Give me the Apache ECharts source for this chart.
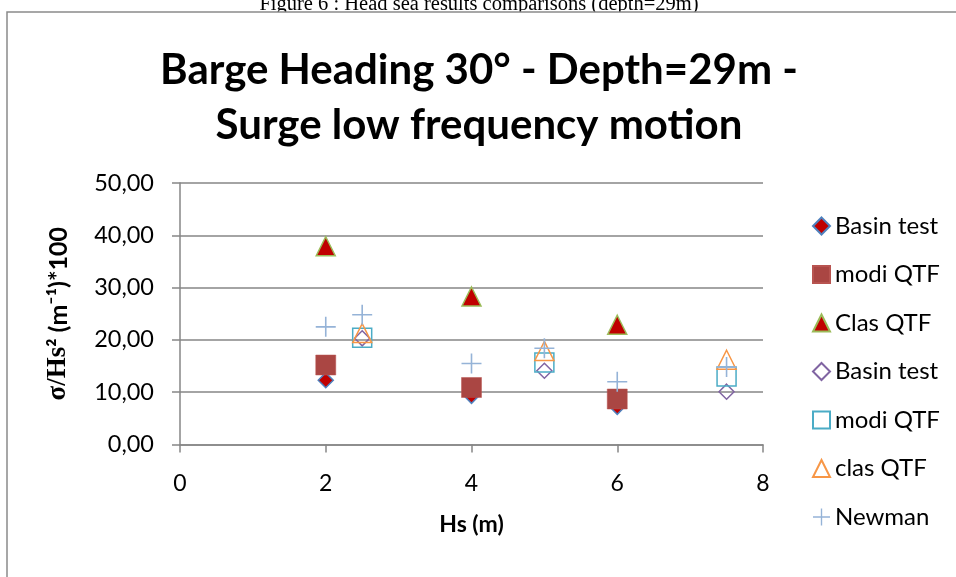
<!DOCTYPE html>
<html>
<head>
<meta charset="utf-8">
<script src="https://cdn.jsdelivr.net/npm/echarts@6/dist/echarts.min.js"></script>
<style>
html,body{margin:0;padding:0;background:#fff;}
#chart{width:956px;height:577px;}
</style>
</head>
<body>
<div id="chart"></div>
<script>
// ---- data ----
const xBasinFilled = [2, 4, 6];
const yBasinFilled = [12.3, 9.3, 7.2];
const yModiFilled = [15.2, 10.9, 8.7];
const yClasFilled = [37.9, 28.3, 22.9];

const xHollow = [2.5, 5, 7.5];
const yBasinHollow = [20.3, 14.1, 10.1];
const yModiHollow = [20.4, 15.7, 13.0];
const yClasHollow = [21.3, 17.9, 16.2];

const xNewman = [2, 2.5, 4, 5, 6, 7.5];
const yNewman = [22.5, 24.8, 15.5, 18.4, 12.0, 14.8];

const yTickLabels = ['0,00', '10,00', '20,00', '30,00', '40,00', '50,00'];
const xTickLabels = ['0', '2', '4', '6', '8'];
const seriesNames = ['Basin test', 'modi QTF', 'Clas QTF', 'Basin test ', 'modi QTF ', 'clas QTF', 'Newman'];

const pair = (xs, ys) => xs.map((x, i) => [x, ys[i]]);
const plusPath = 'path://M4.6,0H5.4V4.6H10V5.4H5.4V10H4.6V5.4H0V4.6H4.6Z';

const chart = echarts.init(document.getElementById('chart'));
const gridCol = '#868686';
const sans = 'Lato';

chart.setOption({
  animation: false,
  backgroundColor: '#fff',
  graphic: [
    { type: 'text', x: 479, y: 15, z: -5,
      style: { text: 'Figure 6 : Head sea results comparisons (depth=29m)', fill: '#000',
        font: '20.5px "Liberation Serif"', textAlign: 'center', textVerticalAlign: 'bottom' } },
    { type: 'rect', shape: { x: 7, y: 12, width: 1200, height: 1000 }, z: -4,
      style: { fill: '#fff', stroke: '#8a8a8a', lineWidth: 1.5 } },
    { type: 'text', x: 479, y: 70,
      style: { text: 'Barge Heading 30° - Depth=29m -', fill: '#000',
        font: 'bold 42px Lato', textAlign: 'center', textVerticalAlign: 'middle' } },
    { type: 'text', x: 479, y: 125,
      style: { text: 'Surge low frequency motion', fill: '#000',
        font: 'bold 42px Lato', textAlign: 'center', textVerticalAlign: 'middle' } }
  ],
  grid: { left: 180, right: 193, top: 183, bottom: 132.5 },
  xAxis: {
    type: 'value', min: 0, max: 8, interval: 2,
    name: 'Hs (m)', nameLocation: 'middle', nameGap: 69,
    nameTextStyle: { fontFamily: sans, fontWeight: 'bold', fontSize: 23, color: '#000' },
    axisLine: { show: true, lineStyle: { color: gridCol, width: 1.5 } },
    axisTick: { show: true, inside: false, length: 8, lineStyle: { color: gridCol, width: 1.5 } },
    splitLine: { show: false },
    axisLabel: { fontFamily: sans, fontSize: 23, color: '#000', margin: 28,
      formatter: v => xTickLabels[Math.round(v / 2)] }
  },
  yAxis: {
    type: 'value', min: 0, max: 50, interval: 10,
    name: '{a|σ/Hs}{b|² (m⁻¹)*100}', nameLocation: 'middle', nameGap: 108, nameRotate: 90,
    nameTextStyle: { rich: {
      a: { fontFamily: 'Liberation Serif', fontWeight: 'bold', fontSize: 27, color: '#000' },
      b: { fontFamily: sans, fontWeight: 'bold', fontSize: 25, color: '#000' } } },
    axisLine: { show: true, lineStyle: { color: gridCol, width: 1.5 } },
    axisTick: { show: true, inside: false, length: 8, lineStyle: { color: gridCol, width: 1.5 } },
    splitLine: { show: true, lineStyle: { color: gridCol, width: 1.5 } },
    axisLabel: { fontFamily: sans, fontSize: 23.5, color: '#000', margin: 26,
      formatter: v => yTickLabels[Math.round(v / 10)] }
  },
  legend: {
    orient: 'vertical', left: 807, top: 207,
    itemWidth: 17, itemHeight: 17, itemGap: 20.5,
    textStyle: { fontFamily: sans, fontSize: 24, color: '#000', lineHeight: 28 },
    data: seriesNames
  },
  series: [
    { name: seriesNames[0], type: 'scatter', symbol: 'diamond', symbolSize: 15, z: 5,
      itemStyle: { color: '#C00000', borderColor: '#4F81BD', borderWidth: 1.5, opacity: 1 },
      data: pair(xBasinFilled, yBasinFilled) },
    { name: seriesNames[1], type: 'scatter', symbol: 'rect', symbolSize: 20, z: 6,
      itemStyle: { color: '#AA4643', borderColor: '#B85450', borderWidth: 0.5, opacity: 1 },
      data: pair(xBasinFilled, yModiFilled) },
    { name: seriesNames[2], type: 'scatter', symbol: 'triangle', symbolSize: 19, z: 7,
      itemStyle: { color: '#C00000', borderColor: '#9BBB59', borderWidth: 1.5, opacity: 1 },
      data: pair(xBasinFilled, yClasFilled) },
    { name: seriesNames[3], type: 'scatter', symbol: 'diamond', symbolSize: 15, z: 8,
      itemStyle: { color: 'rgba(255,255,255,0)', borderColor: '#8064A2', borderWidth: 1.5, opacity: 1 },
      data: pair(xHollow, yBasinHollow) },
    { name: seriesNames[4], type: 'scatter', symbol: 'rect', symbolSize: 19, z: 9,
      itemStyle: { color: 'rgba(255,255,255,0)', borderColor: '#4BACC6', borderWidth: 1.5, opacity: 1 },
      data: pair(xHollow, yModiHollow) },
    { name: seriesNames[5], type: 'scatter', symbol: 'triangle', symbolSize: 19, z: 10,
      itemStyle: { color: 'rgba(255,255,255,0)', borderColor: '#F79646', borderWidth: 1.5, opacity: 1 },
      data: pair(xHollow, yClasHollow) },
    { name: seriesNames[6], type: 'scatter', symbol: plusPath, symbolSize: 20, z: 11,
      itemStyle: { color: '#95B3D7', opacity: 1 },
      data: pair(xNewman, yNewman) }
  ]
});
</script>
</body>
</html>
